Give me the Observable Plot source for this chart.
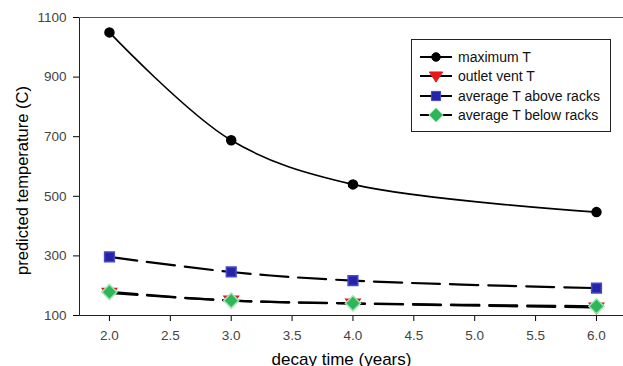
<!DOCTYPE html>
<html><head><meta charset="utf-8">
<script src="https://cdn.jsdelivr.net/npm/d3@7"></script>
<script src="https://cdn.jsdelivr.net/npm/@observablehq/plot@0.6"></script>
<style>
body{margin:0;background:#fff;font-family:"Liberation Sans",Arial,sans-serif}
#wrap{position:relative;width:623px;height:366px;overflow:hidden}
#legend{position:absolute;left:411px;top:39px;width:200px;height:93px;border:1px solid #222;background:#fff;box-sizing:border-box;padding-top:7px}
.row{display:flex;align-items:center;height:19.5px;font-size:14px;color:#111}
.row svg{margin-left:8px;margin-right:6px}
</style></head>
<body><div id="wrap"></div>
<script>
const years = [2, 3, 4, 6];
const maxT = [1050, 688, 540, 447];
const outletT = [176, 150, 140, 127];
const aboveT = [297, 246, 217, 192];
const belowT = [179, 150, 141, 131];
const seriesNames = ["maximum T", "outlet vent T", "average T above racks", "average T below racks"];
const xTicks = [2.0, 2.5, 3.0, 3.5, 4.0, 4.5, 5.0, 5.5, 6.0];
const yTicks = [100, 300, 500, 700, 900, 1100];
const xLabel = "decay time (years)";
const yLabel = "predicted temperature (C)";

const triDown = {draw(ctx, size){const s=Math.sqrt(size)*0.8;ctx.moveTo(-s,-s*0.6);ctx.lineTo(s,-s*0.6);ctx.lineTo(0,s*0.9);ctx.closePath();}};
const styles = [
  {fill:"#000", stroke:"#000", symbol:"circle", r:4.5, dash:null, curve:"catmull-rom", width:1.6},
  {fill:"#e8161b", stroke:"#e8161b", symbol:triDown, r:5, dash:"28,10", curve:"catmull-rom", width:2.2},
  {fill:"#2424a8", stroke:"#4848c8", symbol:"square", r:5.5, dash:"28,10", curve:"catmull-rom", width:2.2},
  {fill:"#2fb55a", stroke:"#9fe6b4", symbol:"diamond2", r:6.8, dash:"28,10", curve:"catmull-rom", width:2.2}
];
const allSeries = [maxT, outletT, aboveT, belowT];
const xDomain = [1.754, 6.222];

const marks = [];
allSeries.forEach((vals, i) => {
  const rows = years.map((x, j) => ({x, y: vals[j]}));
  const st = styles[i];
  marks.push(Plot.line(rows, {x:"x", y:"y", stroke:"#000", strokeWidth:st.width, curve:st.curve, strokeDasharray:st.dash}));
});
allSeries.forEach((vals, i) => {
  const rows = years.map((x, j) => ({x, y: vals[j]}));
  const st = styles[i];
  marks.push(Plot.dot(rows, {x:"x", y:"y", symbol:()=>st.symbol, fill:st.fill, stroke:st.stroke, strokeWidth:1.5, r:st.r}));
});

const chart = Plot.plot({
  width: 623, height: 366,
  marginLeft: 79, marginRight: 0, marginTop: 17, marginBottom: 51,
  style: {fontFamily: '"Liberation Sans", Arial, sans-serif', background: "#fff"},
  x: {domain: xDomain},
  y: {domain: [100, 1100]},
  symbol: {type: "identity"},
  marks: [
    Plot.axisY(yTicks, {tickSize: 6, tickPadding: 7, fontSize: 13.5, fill: "#444", tickFormat: d => String(d), label: null}),
    Plot.axisX(xTicks, {tickSize: 6, tickPadding: 9, fontSize: 13.5, fill: "#444", tickFormat: d3.format(".1f"), label: null}),
    Plot.text([yLabel], {text: d => d, frameAnchor: "left", textAnchor: "middle", lineAnchor: "middle", rotate: -90, dx: -57, dy: 14, fontSize: 16.5, fill: "#000"}),
    Plot.text([xLabel], {text: d => d, frameAnchor: "bottom", dx: -10, dy: 49, fontSize: 17, fill: "#000"}),
    Plot.ruleX([xDomain[0]], {stroke: "#222"}),
    Plot.ruleY([100], {stroke: "#222"}),
    Plot.ruleY([1100], {stroke: "#555"}),
    ...marks
  ]
});
document.getElementById("wrap").appendChild(chart);

// legend
const legend = document.createElement("div");
legend.id = "legend";
seriesNames.forEach((name, i) => {
  const st = styles[i];
  const row = document.createElement("div");
  row.className = "row";
  const s = d3.create("svg").attr("width", 32).attr("height", 14);
  s.append("line").attr("x1", 0).attr("x2", 32).attr("y1", 7).attr("y2", 7).attr("stroke", "#000").attr("stroke-width", 2);
  const sym = typeof st.symbol === "string" ? ({circle:d3.symbolCircle, square:d3.symbolSquare, diamond2:d3.symbolDiamond2})[st.symbol] : st.symbol;
  s.append("path").attr("transform", "translate(16,7)").attr("d", d3.symbol(sym, Math.PI * st.r * st.r * 0.9)())
    .attr("fill", st.fill).attr("stroke", st.stroke);
  row.appendChild(s.node());
  const t = document.createElement("span");
  t.textContent = name;
  row.appendChild(t);
  legend.appendChild(row);
});
document.getElementById("wrap").appendChild(legend);
</script>
</body></html>
